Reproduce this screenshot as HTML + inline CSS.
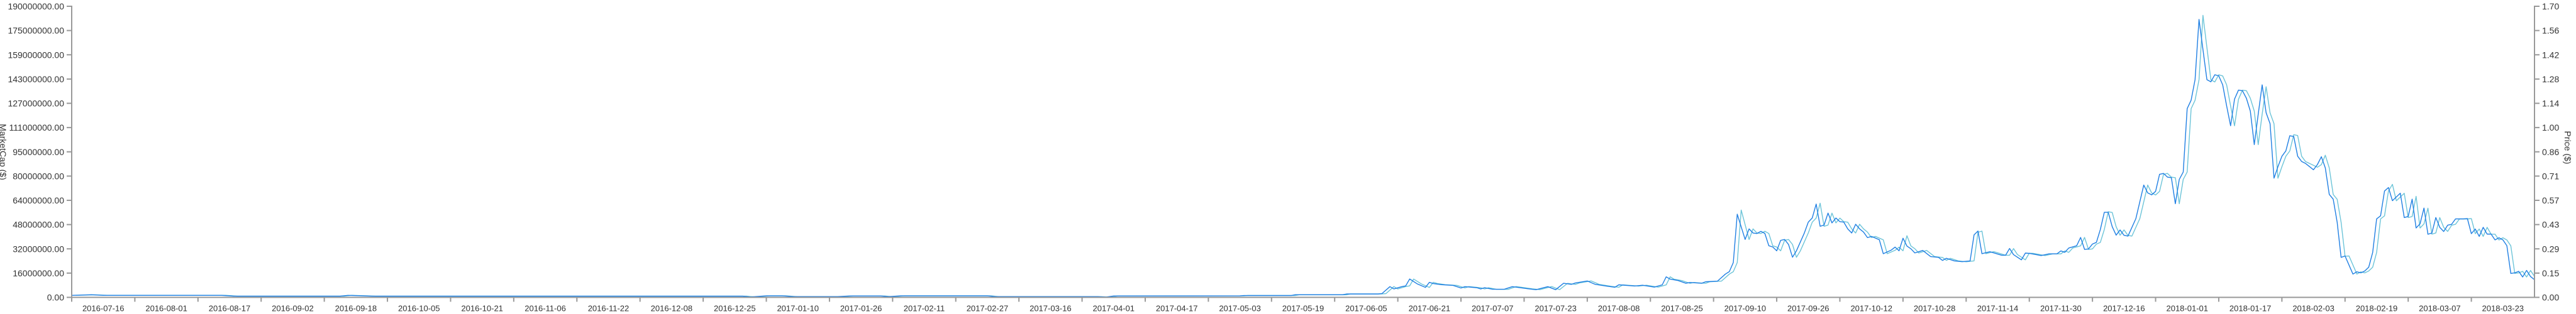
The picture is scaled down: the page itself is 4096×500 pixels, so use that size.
<!DOCTYPE html>
<html><head><meta charset="utf-8"><style>
html,body{margin:0;padding:0;background:#fff;width:4096px;height:500px;overflow:hidden}
svg{display:block;font-family:"Liberation Sans",sans-serif}
</style></head><body>
<svg id="chart" width="4096" height="500" viewBox="0 0 4096 500" xmlns="http://www.w3.org/2000/svg"></svg>
<script>
const xLabels=["2016-07-16","2016-08-01","2016-08-17","2016-09-02","2016-09-18","2016-10-05","2016-10-21","2016-11-06","2016-11-22","2016-12-08","2016-12-25","2017-01-10","2017-01-26","2017-02-11","2017-02-27","2017-03-16","2017-04-01","2017-04-17","2017-05-03","2017-05-19","2017-06-05","2017-06-21","2017-07-07","2017-07-23","2017-08-08","2017-08-25","2017-09-10","2017-09-26","2017-10-12","2017-10-28","2017-11-14","2017-11-30","2017-12-16","2018-01-01","2018-01-17","2018-02-03","2018-02-19","2018-03-07","2018-03-23"];
const leftTicks=["0.00","16000000.00","32000000.00","48000000.00","64000000.00","80000000.00","95000000.00","111000000.00","127000000.00","143000000.00","159000000.00","175000000.00","190000000.00"];
const rightTicks=["0.00","0.15","0.29","0.43","0.57","0.71","0.86","1.00","1.14","1.28","1.42","1.56","1.70"];
const totalDays=624;
const capDays=[0,5,8,38,41,68,70,76,170,172,176,180,183,194,197,205,207,210,232,234,260,262,264,296,297,309,310,322,323,331,332,334,335,337,338,339,341,343,344,345,347,350,352,353,356,357,358,360,363,365,369,371,374,376,378,380,381,384,386,389,391,392,396,398,401,403,404,405,407,409,410,413,414,417,419,420,421,422,424,425,426,427,428,429,430,431,432,433,434,435,436,437,439,440,441,442,443,444,445,446,447,448,449,450,451,452,453,454,455,456,458,459,461,462,463,464,465,466,467,469,471,473,474,475,477,479,481,482,483,484,486,489,490,491,492,494,495,496,499,501,503,504,505,506,508,509,510,511,512,513,514,515,516,517,518,519,520,521,523,525,526,527,528,529,530,531,532,533,534,535,536,537,538,539,541,542,543,544,545,546,547,548,549,550,551,552,553,554,555,556,557,558,559,560,561,562,563,564,565,566,568,569,570,571,572,573,574,575,576,578,579,580,581,582,583,584,585,586,587,588,590,591,592,593,594,595,596,597,598,599,600,601,602,603,604,606,607,608,609,610,611,612,613,614,615,616,617,618,619,620,621,622,623,624];
const capValues=[1.3,1.7,1.3,1.3,0.8,0.8,1.3,0.8,0.8,0.3,1.0,1.0,0.5,0.5,0.9,0.9,0.5,1.0,1.0,0.5,0.5,0.2,0.9,1.0,1.2,1.2,1.7,1.7,2.2,2.2,2.5,7,5.5,7,7.5,12,8.7,6.5,9.8,9,8.3,7.8,6.1,7,6.3,5.5,6.3,5.3,5.3,7,5.6,5,7,5,9.2,8.5,9.4,10.7,8.5,7.3,6.6,8.2,7.4,7.9,6.7,8.2,13.4,11.9,11,9.2,9.7,9.2,10.2,10.6,15.2,16.8,22.7,54.3,37.8,44.7,42,41.7,43.1,41.7,33.7,32.9,30.4,37.2,37.8,34.5,26.2,30.4,42,49.1,51.8,60.9,46.4,47.2,55,48.6,51.8,49.4,49.1,44.7,42,47.7,44.7,42.6,39,39.8,37.6,28.5,30.8,32.8,30.4,38.6,33.5,31.7,29,30.6,26.6,26.1,24.1,25.5,23.8,23.3,23.8,40.8,43.3,28.5,29.8,27.5,27.5,31.9,27.9,24.5,28.9,28.7,27.3,28.4,28.4,30.3,29.4,32.2,33.7,39.1,31.3,31.6,34.8,35.9,44.3,55.5,55.5,46.2,40.6,44,40.5,40,51.4,73.3,68.2,66.9,69.2,80.3,80.9,78.5,78.1,61.1,77,81.8,123.2,128.7,142.1,181.4,142.1,140.7,145.3,144.6,138.7,125,112,129.4,135.3,134.9,130,121.6,99.7,119.6,138.7,120.5,113.4,77.8,85.3,92.1,95.6,105.5,105,92.1,88.7,87.4,83.3,86.7,91.8,84.5,67.2,64.1,49.1,26.1,27,15.2,16.7,16,17.2,19.7,29.3,51.2,53.2,69.4,71.7,63.1,68,52.1,52.8,64.1,45.3,48,58.3,41.2,42,52.1,45.7,43,47.1,47.7,51.2,51.2,51.4,41.6,44.6,39.8,45.7,41.3,41.3,37.5,38.9,37.5,33.7,15.6,16,17,13.3,17.6,13.6,11.5];
const priceValues=[0.012,0.015,0.012,0.012,0.007,0.007,0.012,0.007,0.007,0.003,0.009,0.009,0.004,0.004,0.008,0.008,0.004,0.009,0.009,0.004,0.004,0.002,0.008,0.009,0.011,0.011,0.015,0.015,0.020,0.020,0.022,0.063,0.049,0.063,0.067,0.107,0.078,0.058,0.088,0.081,0.074,0.070,0.055,0.063,0.056,0.049,0.056,0.047,0.047,0.063,0.050,0.045,0.063,0.045,0.082,0.076,0.084,0.096,0.076,0.065,0.059,0.073,0.066,0.071,0.060,0.073,0.120,0.106,0.098,0.082,0.087,0.082,0.091,0.095,0.136,0.150,0.203,0.510,0.338,0.400,0.376,0.373,0.386,0.373,0.301,0.294,0.272,0.333,0.338,0.309,0.234,0.272,0.376,0.439,0.463,0.550,0.415,0.422,0.492,0.435,0.463,0.442,0.439,0.400,0.376,0.427,0.400,0.381,0.349,0.356,0.336,0.255,0.275,0.293,0.272,0.360,0.300,0.284,0.259,0.274,0.238,0.233,0.216,0.228,0.213,0.208,0.213,0.380,0.387,0.255,0.267,0.246,0.246,0.285,0.250,0.219,0.258,0.257,0.244,0.254,0.254,0.271,0.263,0.288,0.301,0.350,0.280,0.283,0.311,0.321,0.396,0.500,0.496,0.413,0.363,0.394,0.362,0.358,0.460,0.656,0.610,0.598,0.619,0.718,0.724,0.702,0.699,0.547,0.689,0.732,1.102,1.151,1.271,1.647,1.271,1.258,1.300,1.293,1.241,1.118,1.002,1.157,1.210,1.207,1.163,1.088,0.892,1.070,1.230,1.078,1.014,0.696,0.763,0.824,0.855,0.950,0.945,0.824,0.793,0.782,0.760,0.775,0.830,0.756,0.601,0.573,0.439,0.240,0.242,0.136,0.149,0.143,0.154,0.176,0.262,0.458,0.476,0.621,0.660,0.564,0.608,0.466,0.472,0.590,0.405,0.429,0.521,0.369,0.376,0.466,0.409,0.385,0.421,0.427,0.458,0.458,0.460,0.372,0.399,0.356,0.409,0.369,0.369,0.335,0.348,0.335,0.301,0.140,0.143,0.152,0.119,0.157,0.122,0.103];
const priceLagDays=1;
const capMax=190, priceMax=1.70;

const svg=document.getElementById('chart');
const NS='http://www.w3.org/2000/svg';
const L=114,R=4030,T=10,B=473.5;
const xScale=d=>L+d*(R-L)/totalDays;
const yCap=v=>B-v/capMax*(B-T);
const yPrice=v=>B-v/priceMax*(B-T);
function mk(tag,attrs,parent){const e=document.createElementNS(NS,tag);for(const k in attrs)e.setAttribute(k,attrs[k]);(parent||svg).appendChild(e);return e;}

// series
const capPts=capDays.map((d,i)=>xScale(d).toFixed(2)+','+yCap(capValues[i]).toFixed(2)).join(' ');
const priceDays=capDays.map(d=>d+priceLagDays);
const pp=[];
priceDays.forEach((d,i)=>{if(d<=totalDays)pp.push(xScale(d).toFixed(2)+','+yPrice(priceValues[i]).toFixed(2));});
const priceLine=mk('polyline',{points:pp.join(' '),fill:'none',stroke:'#6cc4d8','stroke-width':1.4,'stroke-linejoin':'round'});


const capLine=mk('polyline',{points:capPts,fill:'none',stroke:'#1f7fe3','stroke-width':1.4,'stroke-linejoin':'round'});



// axes
const ax=mk('g',{stroke:'#999','stroke-width':2,fill:'none'});


mk('line',{x1:L,y1:T-1,x2:L,y2:B+1},ax);
mk('line',{x1:R,y1:T-1,x2:R,y2:B+1},ax);
mk('line',{x1:L,y1:B,x2:R,y2:B},ax);

const txt=mk('g',{fill:'#333','font-size':14});


leftTicks.forEach((t,i)=>{
  const y=B-i*(B-T)/(leftTicks.length-1);
  mk('line',{x1:L-8,y1:y,x2:L,y2:y},ax);
  const e=mk('text',{x:L-12,y:y+5,'text-anchor':'end'},txt);e.textContent=t;
  
  
});
rightTicks.forEach((t,i)=>{
  const y=B-i*(B-T)/(rightTicks.length-1);
  mk('line',{x1:R,y1:y,x2:R+8,y2:y},ax);
  const e=mk('text',{x:R+12,y:y+5,'text-anchor':'start'},txt);e.textContent=t;
  
  
});
const band=(R-L)/xLabels.length;
xLabels.forEach((t,i)=>{
  const x=L+i*band;
  mk('line',{x1:x,y1:B,x2:x,y2:B+7},ax);
  const e=mk('text',{x:x+band/2,y:B+22,'text-anchor':'middle','font-size':13},txt);e.textContent=t;
  
  
});
const lt=mk('text',{x:0,y:0,'text-anchor':'middle',transform:'translate(0,242) rotate(90)','font-size':14},txt);
lt.textContent='MarketCap ($)';


const rt=mk('text',{x:0,y:0,'text-anchor':'middle',transform:'translate(4078,235) rotate(90)','font-size':14},txt);
rt.textContent='Price ($)';


</script>
</body></html>
